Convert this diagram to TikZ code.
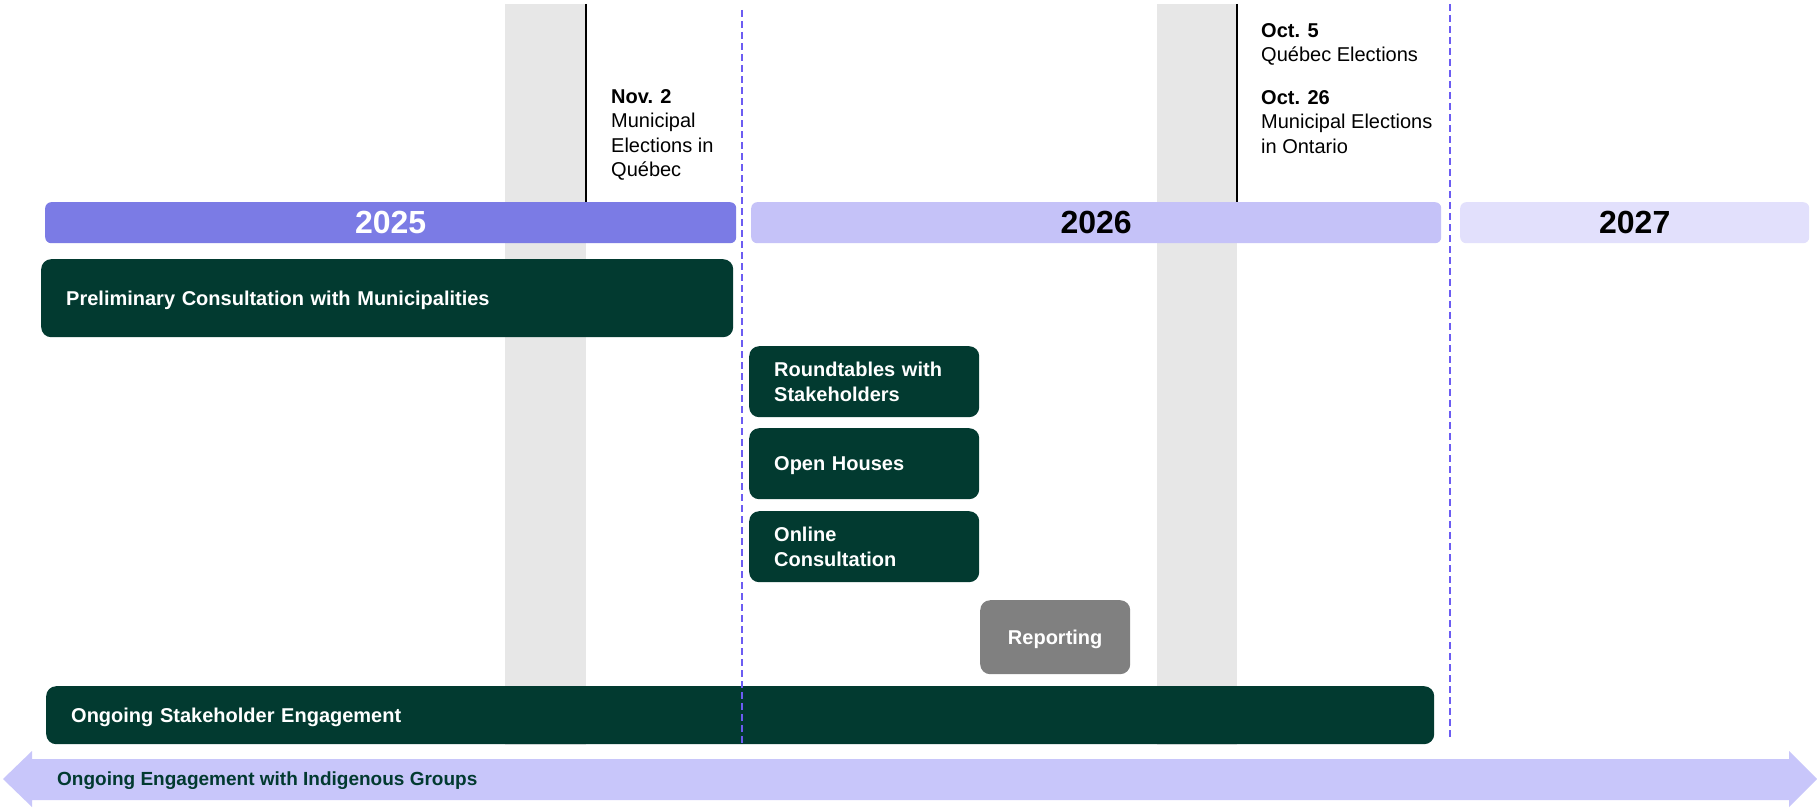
\documentclass[tikz,border=0pt]{standalone}
\usepackage{fontspec}
\setmainfont{Liberation Sans}
\definecolor{gruen}{HTML}{023A30}
\definecolor{grau}{HTML}{808080}
\definecolor{bandgrau}{HTML}{E7E7E7}
\definecolor{jahrA}{HTML}{7B7BE5}
\definecolor{jahrB}{HTML}{C5C2F8}
\definecolor{jahrC}{HTML}{E2E0FC}
\definecolor{pfeil}{HTML}{C8C6FA}
\definecolor{grenze}{HTML}{6C5CF2}
\tikzset{
	year/.style={anchor=north west, inner sep=0pt, rounded corners=6pt,
		minimum height=41pt, font=\bfseries\fontsize{32}{36}\selectfont},
	task/.style={anchor=north west, inner xsep=25pt, inner ysep=0pt,
		fill=gruen, rounded corners=10pt, text=white, align=left,
		font=\bfseries\fontsize{20}{25.5}\selectfont},
	einzeilig/.style={text depth=0pt},
	event/.style={anchor=north west, inner sep=0pt, align=left,
		font=\fontsize{20}{24.5}\selectfont},
	grenzlinie/.style={draw=grenze, line width=1.5pt, dash pattern=on 7pt off 4pt},
}
\begin{document}
\begin{tikzpicture}[x=1pt, y=-1pt]
	\useasboundingbox[fill=white] (0,0) rectangle (1817,808);
	% Wahlzeitraeume
	\fill[bandgrau] (505,4) rectangle (586,745);
	\fill[bandgrau] (1157,4) rectangle (1237,745);
	\draw[line width=2pt] (586,4) -- (586,202);
	\draw[line width=2pt] (1237,4) -- (1237,202);
	% Wahltermine
	\node[event] (nov) at (611,89) {\textbf{Nov. 2}\\Municipal\\Elections in\\Québec};
	\node[event] (octA) at (1261,23) {\textbf{Oct. 5}\\Québec Elections};
	\node[event] (octB) at (1261,90) {\textbf{Oct. 26}\\Municipal Elections\\in Ontario};
	% Jahre
	\node[year, fill=jahrA, text=white, minimum width=691pt] (y2025) at (45,202) {2025};
	\node[year, fill=jahrB, minimum width=690pt] (y2026) at (751,202) {2026};
	\node[year, fill=jahrC, minimum width=349pt] (y2027) at (1460,202) {2027};
	% Aktivitaeten
	\node[task, einzeilig, text width=642pt, minimum height=78pt] (prelim) at (41,259)
		{Preliminary Consultation with Municipalities};
	\node[task, text width=180pt, minimum height=71pt] (round) at (749,346)
		{Roundtables with\\Stakeholders};
	\node[task, einzeilig, text width=180pt, minimum height=71pt] (open) at (749,428)
		{Open Houses};
	\node[task, text width=180pt, minimum height=71pt] (online) at (749,511)
		{Online\\Consultation};
	\node[task, einzeilig, fill=grau, align=center, inner xsep=0pt, text width=150pt,
		minimum height=74pt] (report) at (980,600) {Reporting};
	\node[task, einzeilig, text width=1338pt, minimum height=58pt] (stake) at (46,686)
		{Ongoing Stakeholder Engagement};
	% Pfeil Indigene
	\fill[pfeil] (3,779) -- (32,751) -- (32,759) -- (1789,759) -- (1789,751)
		-- (1817,779) -- (1789,807) -- (1789,800) -- (32,800) -- (32,807) -- cycle;
	\node[anchor=west, inner sep=0pt, text=gruen,
		font=\bfseries\fontsize{19}{22}\selectfont] (indig) at (57,781)
		{Ongoing Engagement with Indigenous Groups};
	% Jahresgrenzen
	\draw[grenzlinie] (742,10) -- (742,745);
	\draw[grenzlinie] (1450,4) -- (1450,737);
\end{tikzpicture}
\end{document}
